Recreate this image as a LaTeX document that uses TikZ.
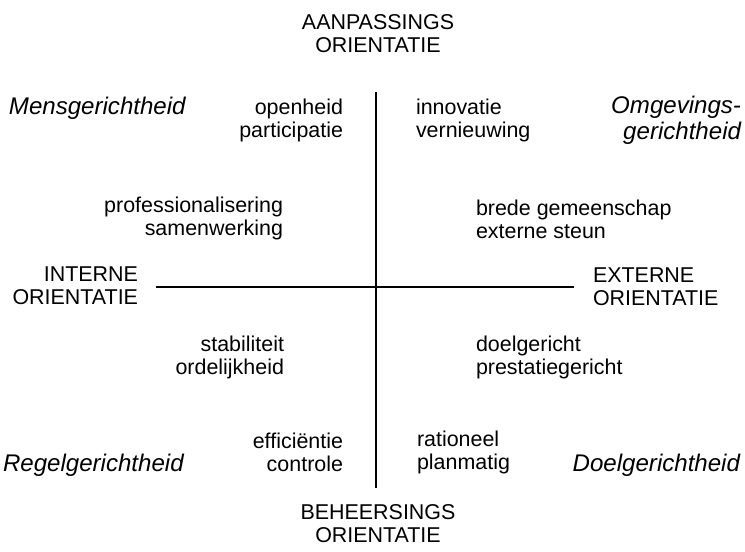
\documentclass[tikz,border=0pt]{standalone}
\usepackage{fontspec}
\setmainfont{Liberation Sans}
\usepackage{tikz}

\begin{document}
\begin{tikzpicture}[every node/.style={inner sep=0pt, outer sep=0pt, font=\fontsize{12.2}{13.1}\selectfont},
  orient/.style={align=center},
  pole/.style={font=\fontsize{13.7}{15}\selectfont\itshape}]
\useasboundingbox (0,0) rectangle (14.9,11.04);

\node[orient] (aanp) at (7.56,10.37) {AANPASSINGS\\ORIENTATIE};
\node[orient] (behe) at (7.56,0.56) {BEHEERSINGS\\ORIENTATIE};
\node[orient, anchor=east, align=right] (intern) at (2.76,5.32) {INTERNE\\ORIENTATIE};
\node[orient, anchor=west, align=left] (extern) at (11.86,5.30) {EXTERNE\\ORIENTATIE};

\node[pole, anchor=west] (mens) at (0.18,8.88) {Mensgerichtheid};
\node[pole, anchor=east, align=right] (omg) at (14.82,8.63) {Omgevings-\\gerichtheid};
\node[pole, anchor=west] (regel) at (0.06,1.74) {Regelgerichtheid};
\node[pole, anchor=east] (doel) at (14.80,1.74) {Doelgerichtheid};

\node[anchor=east, align=right] (open) at (6.86,8.63) {openheid\\participatie};
\node[anchor=west, align=left] (innov) at (8.32,8.63) {innovatie\\vernieuwing};
\node[anchor=east, align=right] (prof) at (5.66,6.67) {professionalisering\\samenwerking};
\node[anchor=west, align=left] (brede) at (9.52,6.65) {brede gemeenschap\\externe steun};
\node[anchor=east, align=right] (stab) at (5.68,3.89) {stabiliteit\\ordelijkheid};
\node[anchor=west, align=left] (doelg) at (9.52,3.89) {doelgericht\\prestatiegericht};
\node[anchor=east, align=right] (eff) at (6.86,1.99) {efficiëntie\\controle};
\node[anchor=west, align=left] (rat) at (8.34,1.99) {rationeel\\planmatig};

\coordinate (top) at (7.52,9.2);
\coordinate (bottom) at (7.52,1.28);
\coordinate (left) at (3.12,5.30);
\coordinate (right) at (11.48,5.30);
\draw[line width=1.5pt] (top) -- (bottom);
\draw[line width=1.5pt] (left) -- (right);
\end{tikzpicture}
\end{document}
